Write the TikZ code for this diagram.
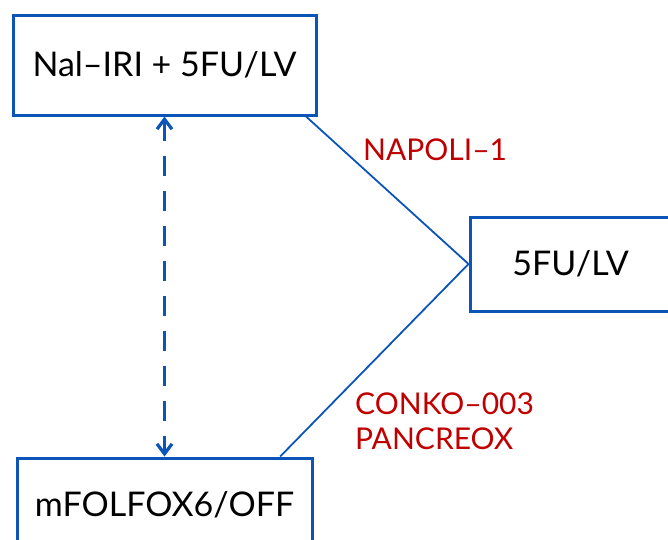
\documentclass[tikz,border=0pt]{standalone}
\usepackage{fontspec}
\setmainfont{Lato}
\usetikzlibrary{arrows.meta}
\definecolor{boxblue}{HTML}{0B55B8}
\definecolor{trialred}{HTML}{C00000}
\begin{document}
\begin{tikzpicture}
[x=1pt, y=-1pt, >={Straight Barb[length=10pt, width=15pt]},
 box/.style={draw=boxblue, line width=3pt, fill=white, inner sep=0pt, font=\fontsize{34}{40}\selectfont},
 trial/.style={text=trialred, font=\fontsize{30}{35}\selectfont, align=left, inner sep=0pt},
 link/.style={draw=boxblue, line width=1.8pt}]
\useasboundingbox (0,0) rectangle (668,539);

\node (NalIRI) at (164.5,65) [box, minimum width=303pt, minimum height=100pt] {Nal–IRI + 5FU/LV};
\node (FULV) at (580,264) [box, minimum width=220pt, minimum height=94pt] {\hspace*{-19pt}5FU/LV};
\node (mFOLFOX) at (164.5,508) [box, minimum width=295pt, minimum height=100pt] {\raisebox{8pt}{mFOLFOX6/OFF}};

\node (NAPOLI) at (363,150) [trial, anchor=west] {NAPOLI–1};
\node (CONKO) at (355,421) [trial, anchor=west] {CONKO–003\\PANCREOX};

\draw [link] (NalIRI.-20.4) -- (FULV.west);
\draw [link] (mFOLFOX.24) -- (FULV.west);
\draw [<->, draw=boxblue, line width=3.2pt, dash pattern=on 20pt off 15pt] (NalIRI.south) -- (mFOLFOX.north);
\end{tikzpicture}
\end{document}
